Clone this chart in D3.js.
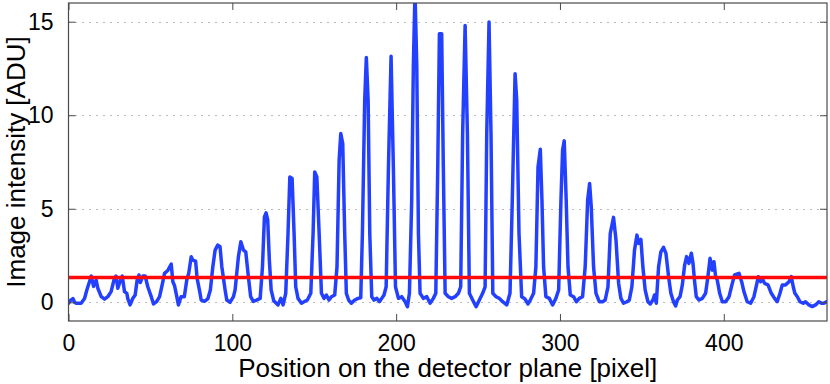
<!DOCTYPE html>
<html>

<head>
    <meta charset="utf-8">
    <title>Detector profile</title>
    <style>
        body {
            margin: 0;
            background: #fff;
        }

        text {
            font-family: "Liberation Sans", Arial, sans-serif;
            fill: #000;
        }

        .grid line {
            stroke: #7a7a7a;
            stroke-width: 1px;
            stroke-dasharray: 1, 6;
        }
    </style>

    <script src="https://d3js.org/d3.v7.min.js"></script>

</head>

<body>
    <script>
        var pixelPos = [0, 1.2, 2.7, 3.7, 4.7, 7.7, 9.8, 11.2, 12.8, 13.9, 15.3, 16.9, 17.9, 20, 22, 24, 26, 28, 29, 30.1,
            31.8, 32.8, 34.2, 35.6, 36.2, 37.6, 39.2, 40.7, 41.9, 43, 43.8, 45.4, 46.8, 48.4, 50.5, 51.9, 53.9, 55.6, 57.6, 58.6,
            60.6, 62.7, 63.7, 64.7, 65.7, 67.1, 68.7, 70.7, 72.2, 73.4, 74.9, 75.9, 77.6, 78.5, 79.9, 81, 83, 85, 86.6, 88.1,
            89.5, 91.1, 92.5, 93.6, 95.6, 96.6, 98.6, 100.7, 101.7, 103.7, 105.2, 106.8, 108.2, 109.8, 111.2, 112.8, 114.8, 117, 118.4, 119.6,
            120.6, 121.6, 122.6, 123.7, 125.3, 127.9, 129.6, 131, 132.6, 134, 135.1, 136.5, 137.7, 138.7, 140.1, 142.2, 143.8, 145.8, 147.9, 149.3,
            150.3, 151.6, 153, 154.4, 156, 157.4, 159, 160.5, 162.5, 163.9, 165.2, 166.2, 167.4, 168.6, 169.6, 171, 172.7, 174.7, 176.8, 178.4,
            179.4, 180.8, 181.8, 182.9, 183.9, 185.1, 186.5, 188.2, 189.8, 191.2, 192.6, 193.9, 195.3, 196.9, 198.3, 199.6, 201.4, 203.4, 205.5, 206.9,
            208.1, 209.5, 210.5, 211.5, 212.6, 213.6, 214.6, 216.6, 218.7, 220.7, 222.7, 224.2, 225.4, 226.4, 227.8, 228.8, 229.9, 231.9, 233.9, 236,
            238, 239.4, 240.6, 242.1, 243.5, 244.7, 246.7, 248.8, 250.8, 252.8, 254.3, 255.3, 256.7, 257.9, 259, 261, 263, 265, 267.5, 269.5,
            270.9, 272.6, 273.6, 275, 276.6, 278.6, 280.5, 281.9, 283.9, 285.3, 286.6, 288, 289, 290, 291.4, 293.5, 295.5, 297.5, 299.2, 300.6,
            301.6, 302.6, 303.8, 304.9, 306.3, 308.3, 310, 311.8, 313.8, 315.4, 316.9, 318.1, 319.1, 320.5, 322, 324, 326, 327.6, 329.3, 330.7,
            332.7, 334.2, 335.8, 337.2, 338.8, 340.9, 342.3, 343.9, 345.5, 347, 348, 349.4, 350.6, 352, 353.7, 355.1, 356.7, 357.7, 358.8, 360.2,
            361.6, 363.2, 364.7, 366.3, 367.7, 369.3, 370.6, 371.6, 373.3, 374.7, 376.1, 377.3, 378.7, 380.2, 381.2, 382.2, 383.2, 384.9, 386.9, 388.9,
            390.3, 391.6, 393, 394, 395, 396, 397.5, 399.1, 401.1, 403.2, 405.2, 406.6, 409.3, 410.9, 412.3, 414.3, 416.4, 418.4, 420, 421.1,
            422.5, 423.5, 424.9, 427, 429, 431, 432.6, 434.3, 435.7, 437.7, 439.8, 441.2, 442.4, 443.4, 444.9, 446.5, 448.5, 449.9, 452, 454,
            456, 458, 459.7, 461.1, 462.7];

        var intensity = [-0.05, 0.1, 0.2, 0.0, -0.05, -0.05, 0.2, 0.66, 1.1, 1.4, 0.85, 1.19, 0.75, 0.3, 0.17, 0.3, 0.57, 1.28, 1.4, 0.75,
            1.19, 1.4, 0.57, 0.48, 0.2, -0.14, 0.2, 0.39, 1.19, 1.46, 1.06, 1.4, 1.4, 0.83, 0.3, -0.09, 0.05, 0.3, 1.1, 1.55,
            1.7, 2.04, 1.1, 0.9, 0.48, -0.14, 0.3, 0.3, 1.19, 1.55, 2.43, 2.25, 2.2, 1.28, 0.66, 0.12, 0.05, 0.18, 0.66, 1.9,
            2.79, 3.06, 2.97, 1.9, 0.66, 0.12, 0.0, 0.3, 0.66, 2.43, 3.24, 2.79, 2.7, 1.37, 0.3, 0.05, 0.12, 0.21, 1.9, 4.57,
            4.78, 4.4, 2.26, 0.66, 0.08, -0.14, 0.21, -0.14, 0.48, 3.68, 6.7, 6.62, 3.68, 0.83, 0.21, -0.05, 0.03, 0.12, 0.48, 3.68,
            6.97, 6.7, 3.68, 0.48, 0.21, 0.39, 0.12, 0.3, 0.39, 1.9, 7.6, 9.02, 8.49, 3.68, 0.48, 0.12, -0.05, 0.12, 0.21, 0.24,
            3.68, 10.8, 13.08, 10.8, 3.68, 0.3, 0.12, 0.21, 0.03, 0.21, 0.39, 0.83, 7.24, 13.15, 7.24, 0.83, 0.21, 0.3, 0.03, -0.24,
            0.48, 5.47, 12.6, 16.6, 12.6, 3.68, 0.48, 0.21, 0.3, -0.05, 0.21, 0.48, 7.24, 14.36, 14.36, 7.24, 0.48, 0.3, 0.21, 0.3,
            0.48, 0.83, 9.02, 14.8, 9.02, 0.48, 0.12, -0.24, 0.12, 0.48, 0.83, 9.02, 14.98, 9.02, 0.48, 0.3, 0.21, 0.03, -0.14, 0.48,
            5.47, 12.22, 10.8, 3.68, 0.3, 0.18, -0.09, 0.12, 0.48, 1.9, 7.24, 8.18, 5.47, 1.9, 0.3, 0.21, -0.14, 0.21, 0.66, 5.47,
            8.14, 8.63, 5.47, 1.9, 0.39, 0.3, 0.03, 0.21, 0.3, 1.9, 5.47, 6.35, 5.1, 1.9, 0.48, 0.03, 0.03, 0.12, 0.83, 3.68,
            4.54, 3.33, 1.01, 0.21, -0.05, 0.03, 0.12, 0.83, 2.79, 3.59, 3.15, 3.36, 1.9, 0.66, 0.03, -0.09, 0.12, 0.39, -0.05, 1.9,
            2.7, 2.94, 2.61, 1.37, 0.48, 0.03, -0.2, 0.12, 0.3, 0.93, 1.99, 2.44, 2.08, 2.62, 2.08, 1.1, 0.3, 0.12, 0.21, 0.48,
            1.37, 2.35, 1.72, 2.17, 1.37, 1.19, 0.48, 0.03, 0.03, 0.3, 1.01, 1.46, 1.55, 1.1, 0.57, 0.03, -0.05, 0.3, 0.93, 1.37,
            1.1, 1.28, 1.01, 0.93, 0.48, 0.21, 0.03, 0.48, 0.93, 0.93, 1.1, 1.37, 0.83, 0.48, 0.3, 0.03, -0.05, 0.03, -0.14, -0.23,
            -0.14, 0.03, -0.05, -0.05, 0.03];

        var threshold = 1.33;

        var xTicks = [0, 100, 200, 300, 400];
        var yTicks = [0, 5, 10, 15];
        var xDomain = [0, 463];
        var yDomain = [-1, 16];

        var w = 830;
        var h = 384;
        var plotLeft = 68.5, plotRight = 827, plotTop = 3, plotBottom = 321;

        var svg = d3.select("body").append("svg")
            .attr("width", w)
            .attr("height", h);

        var x = d3.scaleLinear().domain(xDomain).range([plotLeft, plotRight]);
        var y = d3.scaleLinear().domain(yDomain).range([plotBottom, plotTop]);

        // dotted horizontal grid
        svg.append("g")
            .attr("class", "grid")
            .selectAll("line")
            .data(yTicks)
            .enter()
            .append("line")
            .attr("x1", plotLeft)
            .attr("x2", plotRight)
            .attr("y1", function (d) { return Math.round(y(d)) + 0.5; })
            .attr("y2", function (d) { return Math.round(y(d)) + 0.5; });

        svg.append("clipPath")
            .attr("id", "plotArea")
            .append("rect")
            .attr("x", plotLeft)
            .attr("y", plotTop)
            .attr("width", plotRight - plotLeft)
            .attr("height", plotBottom - plotTop);

        var points = pixelPos.map(function (p, i) { return [p, intensity[i]]; });

        var line = d3.line()
            .x(function (d) { return x(d[0]); })
            .y(function (d) { return y(d[1]); });

        svg.append("path")
            .datum(points)
            .attr("clip-path", "url(#plotArea)")
            .attr("d", line)
            .style("fill", "none")
            .style("stroke", "#2440ff")
            .style("stroke-width", 3.5)
            .style("stroke-linejoin", "round")
            .style("stroke-linecap", "round");

        svg.append("line")
            .attr("x1", plotLeft)
            .attr("x2", plotRight)
            .attr("y1", y(threshold))
            .attr("y2", y(threshold))
            .style("stroke", "#ff0a0a")
            .style("stroke-width", 3.5);

        // axes with inward ticks, mirrored on top and right
        var tickLen = 7;
        var frameColor = "#4a4a4a";

        function styleAxis(g) {
            g.select(".domain").remove();
            g.selectAll(".tick line").attr("stroke", frameColor);
            g.selectAll(".tick text")
                .style("font-size", "23px")
                .style("font-family", "'Liberation Sans', Arial, sans-serif");
        }

        svg.append("g")
            .attr("transform", "translate(0," + plotBottom + ")")
            .call(d3.axisBottom(x).tickValues(xTicks).tickFormat(d3.format("d")).tickSizeInner(-tickLen).tickSizeOuter(0).tickPadding(14))
            .call(styleAxis);

        svg.append("g")
            .attr("transform", "translate(0," + plotTop + ")")
            .call(d3.axisTop(x).tickValues(xTicks).tickFormat("").tickSizeInner(-tickLen).tickSizeOuter(0))
            .call(styleAxis);

        svg.append("g")
            .attr("transform", "translate(" + plotLeft + ",0)")
            .call(d3.axisLeft(y).tickValues(yTicks).tickFormat(d3.format("d")).tickSizeInner(-tickLen).tickSizeOuter(0).tickPadding(15))
            .call(styleAxis);

        svg.append("g")
            .attr("transform", "translate(" + plotRight + ",0)")
            .call(d3.axisRight(y).tickValues(yTicks).tickFormat("").tickSizeInner(-tickLen).tickSizeOuter(0))
            .call(styleAxis);

        svg.append("rect")
            .attr("x", plotLeft)
            .attr("y", plotTop)
            .attr("width", plotRight - plotLeft)
            .attr("height", plotBottom - plotTop)
            .style("fill", "none")
            .style("stroke", frameColor)
            .style("stroke-width", 1.2);

        svg.append("text")
            .attr("x", (plotLeft + plotRight) / 2 + 0)
            .attr("y", 377)
            .attr("text-anchor", "middle")
            .style("font-size", "26px")
            .text("Position on the detector plane [pixel]");

        svg.append("text")
            .attr("transform", "translate(25," + ((plotTop + plotBottom) / 2) + ") rotate(-90)")
            .attr("text-anchor", "middle")
            .style("font-size", "26px")
            .text("Image intensity [ADU]");
    </script>

</body>

</html>
